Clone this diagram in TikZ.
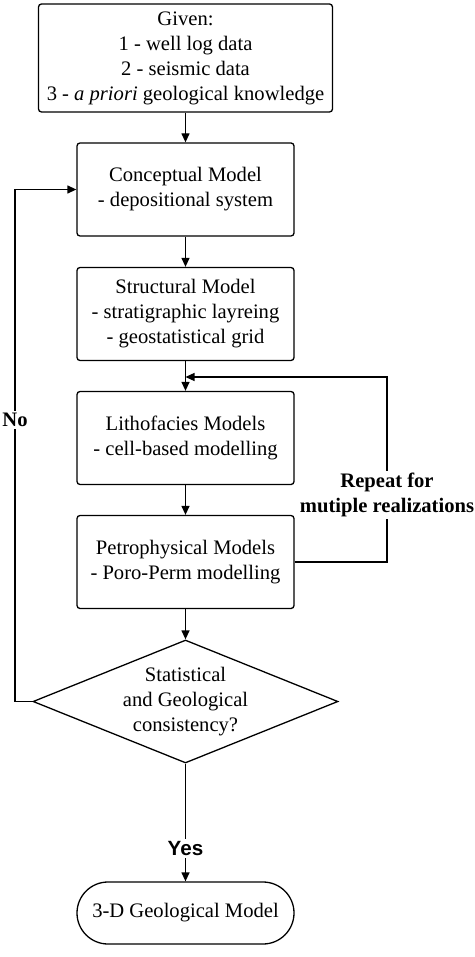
\documentclass[tikz,border=0pt]{standalone}
\usepackage{fontspec}
\setmainfont{Liberation Serif}
\newfontfamily\sansfam{Liberation Sans}
\usetikzlibrary{shapes.geometric,arrows.meta}
\tikzset{
  base/.style={draw=black, line width=1.3pt, align=center, font=\fontsize{20.6}{25}\selectfont, inner sep=0pt},
  procbox/.style={base, rounded corners=3pt, minimum width=217pt, minimum height=93pt},
  decide/.style={base, diamond, aspect=2.48, minimum width=305pt, minimum height=123pt},
  term/.style={base, rounded corners=31pt, minimum width=217pt, minimum height=62pt},
  conn/.style={line width=1.3pt, -{Triangle[length=9pt,width=8pt]}},
  lbl/.style={fill=white, inner sep=2pt, font=\fontsize{20.6}{25}\selectfont\bfseries, align=center},
}
\begin{document}
\begin{tikzpicture}[x=1pt,y=1pt]
\useasboundingbox (0,0) rectangle (474,-957);
\begin{scope}
\clip (0,0) rectangle (474,-957);
\node[procbox, minimum width=294pt, minimum height=108pt] (given) at (185.5,-58) {Given:\\1 - well log data\\2 - seismic data\\3 - \textit{a priori} geological knowledge};
\node[procbox] (concept) at (185.5,-189.5) {Conceptual Model\\- depositional system};
\node[procbox] (struct) at (185.5,-314) {Structural Model\\- stratigraphic layreing\\- geostatistical grid};
\node[procbox] (litho) at (185.5,-438) {Lithofacies Models\\- cell-based modelling};
\node[procbox] (petro) at (185.5,-562) {Petrophysical Models\\- Poro-Perm modelling};
\node[decide] (dec) at (185.5,-701.5) {Statistical\\and Geological\\consistency?};
\node[term] (final) at (185.5,-913) {3-D Geological Model};
\coordinate (join) at (185.5,-377);
\coordinate (rtop) at (387,-377);
\coordinate (lside) at (15,-189.5);

\draw[conn] (given) -- (concept);
\draw[conn] (concept) -- (struct);
\draw[conn] (struct) -- (litho);
\draw[conn] (litho) -- (petro);
\draw[conn] (petro) -- (dec);
\draw[conn] (dec.south) -- node[pos=0.72, lbl, font=\fontsize{20.6}{25}\sansfam\bfseries] {Yes} (final.north);
\draw[conn] (dec.west) -| node[pos=0.775, lbl] {No} (lside) -- (concept.west);
\draw[conn] (petro.east) -| node[pos=0.68, lbl] {Repeat for\\mutiple realizations} (rtop) -- (join);
\end{scope}
\end{tikzpicture}
\end{document}
